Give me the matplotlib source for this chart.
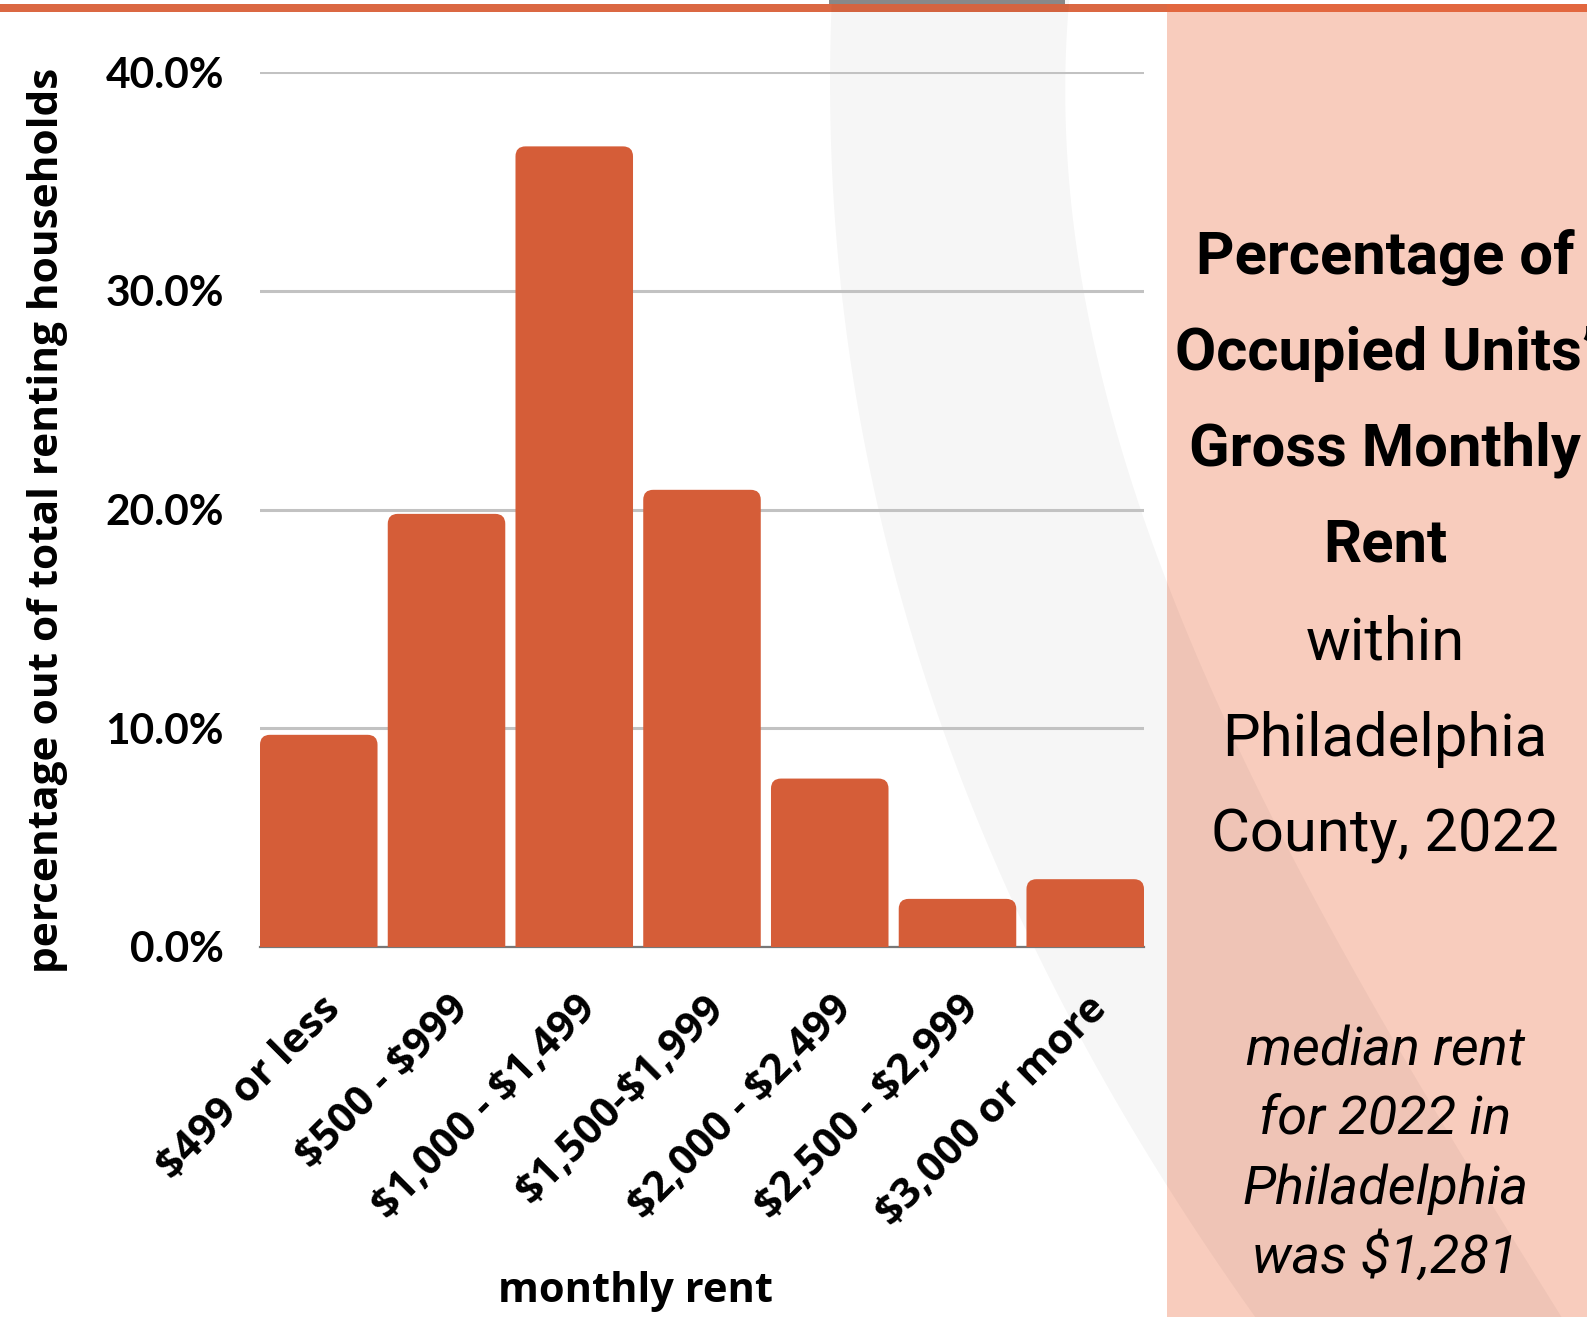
import matplotlib
matplotlib.use('Agg')
import matplotlib.pyplot as plt
import numpy as np
from matplotlib.patches import FancyBboxPatch, Rectangle, Polygon
import matplotlib.transforms as mtransforms

# data
rent_bins = ['$499 or less', '$500 - $999', '$1,000 - $1,499', '$1,500-$1,999',
             '$2,000 - $2,499', '$2,500 - $2,999', '$3,000 or more']
share_pct = [9.7, 19.8, 36.6, 20.9, 7.7, 2.2, 3.1]
y_ticks = [0, 10, 20, 30, 40]
y_tick_labels = ['0.0%', '10.0%', '20.0%', '30.0%', '40.0%']

title_lines = ['Percentage of', 'Occupied Units\u2019', 'Gross Monthly', 'Rent']
sub_lines = ['within', 'Philadelphia', 'County, 2022']
note_lines = ['median rent', 'for 2022 in', 'Philadelphia', 'was $1,281']

W, H = 1587, 1317
BAR = '#D55D38'
LAB_FONT = 'Open Sans'

fig = plt.figure(figsize=(W / 100, H / 100), dpi=100)

# background layer in pixel coords
bg = fig.add_axes([0, 0, 1, 1])
bg.set_xlim(0, W)
bg.set_ylim(H, 0)
bg.axis('off')

bg.add_patch(Rectangle((1167, 4), W - 1167, H, color='#F8CCBD', lw=0))
bg.add_patch(Rectangle((0, 4), 1167, 8, color='#DB6843', lw=0))
bg.add_patch(Rectangle((1167, 4), W - 1167, 8, color='#E2673F', lw=0))

# soft curved band
ly = [0, 150, 312, 491, 700, 975, 1157, 1317]
lx = [829, 835, 845, 875, 928, 1044, 1160, 1250]
ry = [0, 201, 402, 580, 700, 880, 1317]
rx = [1065, 1081, 1106, 1166, 1202, 1317, 1560]
yy = np.linspace(0, H, 200)
xl = np.polyval(np.polyfit(ly, lx, 3), yy)
xr = np.polyval(np.polyfit(ry, rx, 3), yy)
band = np.column_stack([np.r_[xl, xr[::-1]], np.r_[yy, yy[::-1]]])
bg.add_patch(Polygon(band, closed=True, facecolor='black', alpha=0.035, lw=0))
bg.add_patch(Rectangle((829, 0), 236, 4, color='#888888', lw=0))

# right panel text
cx = 1385
for i, t in enumerate(title_lines):
    bg.text(cx, 258 + 96 * i, t, ha='center', va='center', fontsize=43,
            fontweight='bold', family='Roboto', color='black')
for i, t in enumerate(sub_lines):
    bg.text(cx, 643 + 96 * i, t, ha='center', va='center', fontsize=43,
            family='Roboto', color='black')
for i, t in enumerate(note_lines):
    bg.text(cx, 1051 + 69 * i, t, ha='center', va='center', fontsize=39,
            style='italic', family='Roboto', color='black', parse_math=False)

# axis titles
bg.text(48, 520, 'percentage out of total renting households', rotation=90,
        ha='center', va='center', fontsize=30.5, fontweight='bold', family=LAB_FONT)
bg.text(636, 1292, 'monthly rent', ha='center', va='center', fontsize=30,
        fontweight='bold', family=LAB_FONT)

# chart
ax_l, ax_r, ax_t, ax_b = 260, 1144, 72, 947
ax = fig.add_axes([ax_l / W, (H - ax_b) / H, (ax_r - ax_l) / W, (ax_b - ax_t) / H])
ax.patch.set_alpha(0)
for s in ax.spines.values():
    s.set_visible(False)

x = np.arange(len(rent_bins))
bw = 0.92
ax.set_xlim(-bw / 2, len(rent_bins) - 1 + bw / 2)
ax.set_ylim(0, 40)

bars = ax.bar(x, share_pct, width=bw, color=BAR, zorder=3)
px_x = (ax_r - ax_l) / (ax.get_xlim()[1] - ax.get_xlim()[0])
px_y = (ax_b - ax_t) / 40
r = 10 / px_x
asp = px_x / px_y
for b in bars:
    x0, w, h = b.get_x(), b.get_width(), b.get_height()
    b.set_visible(False)
    ax.add_patch(FancyBboxPatch((x0, -2), w, h + 2,
                                boxstyle='round,pad=0,rounding_size=%f' % r,
                                mutation_aspect=asp, fc=BAR, ec='none', zorder=3))

ax.axhline(0, color='#777777', lw=1.6, zorder=2, clip_on=False)
ax.set_yticks(y_ticks)
ax.set_yticklabels(y_tick_labels, fontsize=30.5, fontweight='bold', family='Lato')
ax.yaxis.grid(True, color='#C2C2C2', lw=2.2, zorder=0)
ax.set_axisbelow(True)
ax.tick_params(axis='y', length=0, pad=26)
ax.set_xticks([])

off = mtransforms.ScaledTranslation(0.16, -0.56, fig.dpi_scale_trans)
for xi, lab in zip(x, rent_bins):
    ax.text(xi, 0, lab, transform=ax.get_xaxis_transform() + off, rotation=45,
            ha='right', va='center', rotation_mode='anchor', fontsize=30,
            fontweight='bold', family=LAB_FONT, clip_on=False, parse_math=False)

fig.savefig('out.png', dpi=100)
